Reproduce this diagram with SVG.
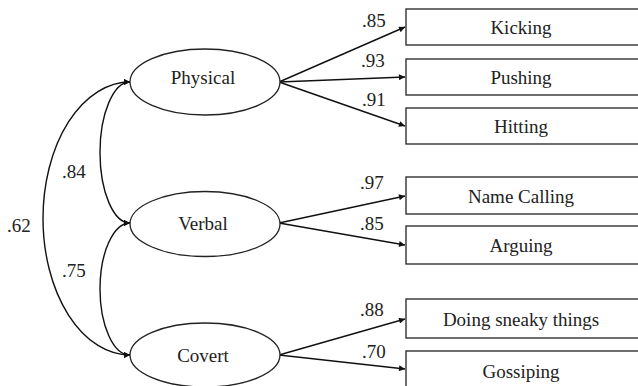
<svg xmlns="http://www.w3.org/2000/svg" width="638" height="386" viewBox="0 0 638 386">
<style>
text{font-family:'Liberation Serif','Times New Roman',Tinos,'DejaVu Serif',serif;font-size:19px;fill:#222}
.c{text-anchor:middle}
.box{fill:#fff;stroke:#222;stroke-width:1.3}
.ell{fill:#fff;stroke:#222;stroke-width:1.3}
.ln{fill:none;stroke:#111;stroke-width:1.4}
</style>
<defs>
<marker id="ah" viewBox="0 0 10 10" refX="10" refY="5" markerWidth="9" markerHeight="6" markerUnits="userSpaceOnUse" orient="auto-start-reverse">
<path d="M0,0L10,5L0,10z" fill="#111"/>
</marker>
</defs>
<rect width="638" height="386" fill="#fff"/>
<g id="connectors">
<path class="ln" d="M279,82L405,27" marker-end="url(#ah)"/>
<path class="ln" d="M279,82L405,77" marker-end="url(#ah)"/>
<path class="ln" d="M279,82L405,126" marker-end="url(#ah)"/>
<path class="ln" d="M279,223L405,196" marker-end="url(#ah)"/>
<path class="ln" d="M279,223L405,245" marker-end="url(#ah)"/>
<path class="ln" d="M279,355L405,319" marker-end="url(#ah)"/>
<path class="ln" d="M279,355L405,369" marker-end="url(#ah)"/>
<path class="ln" d="M130,82A30,70.5 0 0 0 130,223" marker-start="url(#ah)" marker-end="url(#ah)"/>
<path class="ln" d="M130,223A30,66 0 0 0 130,355" marker-start="url(#ah)" marker-end="url(#ah)"/>
<path class="ln" d="M130,82A87,136.5 0 0 0 130,355" marker-start="url(#ah)" marker-end="url(#ah)"/>
</g>
<g id="labels" font-family="Liberation Serif, serif">
<text x="362" y="27">.85</text>
<text x="361" y="67">.93</text>
<text x="362" y="106">.91</text>
<text x="360" y="189">.97</text>
<text x="360" y="230">.85</text>
<text x="360" y="316">.88</text>
<text x="362" y="358">.70</text>
<text x="62" y="178">.84</text>
<text x="7" y="232">.62</text>
<text x="62" y="277">.75</text>
</g>
<g id="physical"><ellipse class="ell" cx="205" cy="82" rx="75" ry="33"/><text class="c" x="203" y="84">Physical</text></g>
<g id="verbal"><ellipse class="ell" cx="205" cy="224" rx="75" ry="32.5"/><text class="c" x="203" y="230">Verbal</text></g>
<g id="covert"><ellipse class="ell" cx="205" cy="355" rx="75" ry="32"/><text class="c" x="203" y="362">Covert</text></g>
<g id="kicking"><rect class="box" x="406" y="9" width="240" height="36"/><text class="c" x="521" y="34">Kicking</text></g>
<g id="pushing"><rect class="box" x="406" y="59" width="240" height="36"/><text class="c" x="521" y="84">Pushing</text></g>
<g id="hitting"><rect class="box" x="406" y="108" width="240" height="36"/><text class="c" x="521" y="133">Hitting</text></g>
<g id="namecalling"><rect class="box" x="406" y="177" width="240" height="37"/><text class="c" x="521" y="203">Name Calling</text></g>
<g id="arguing"><rect class="box" x="406" y="226" width="240" height="38"/><text class="c" x="521" y="252">Arguing</text></g>
<g id="sneaky"><rect class="box" x="406" y="299" width="240" height="39"/><text class="c" x="521" y="326">Doing sneaky things</text></g>
<g id="gossiping"><rect class="box" x="406" y="351" width="240" height="40"/><text class="c" x="521" y="378">Gossiping</text></g>
</svg>
